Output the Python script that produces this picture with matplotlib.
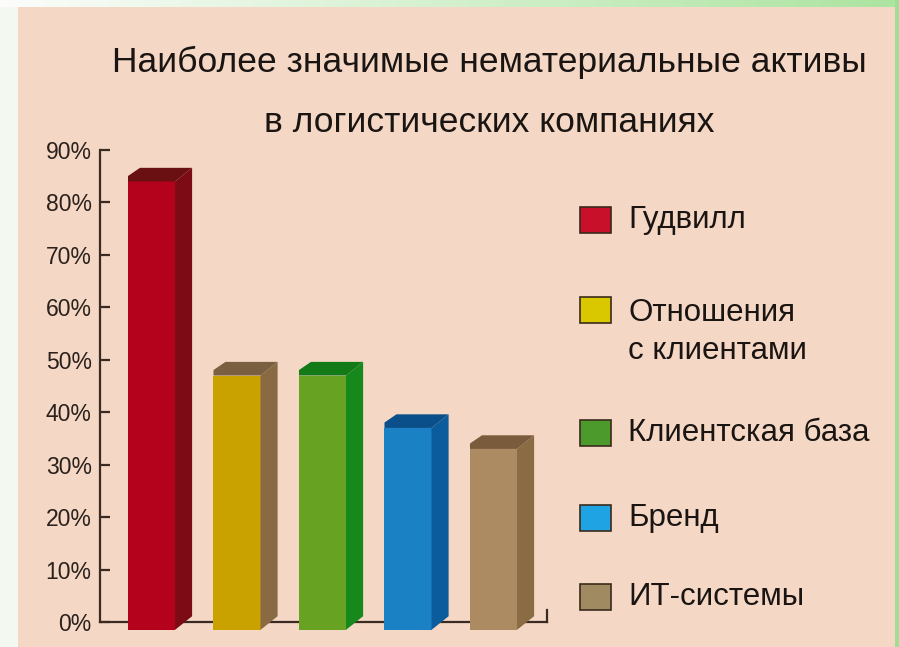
import numpy as np
import matplotlib
matplotlib.use('Agg')
import matplotlib.pyplot as plt
from matplotlib.patches import Polygon, Rectangle

plt.rcParams['font.family'] = ['Liberation Sans', 'DejaVu Sans']

# *** Data ***
categories = ['Гудвилл', 'Отношения\nс клиентами', 'Клиентская база', 'Бренд', 'ИТ-системы']
values = [84, 47, 47, 37, 33]
yticks = [0, 10, 20, 30, 40, 50, 60, 70, 80, 90]
ytick_labels = ['0%', '10%', '20%', '30%', '40%', '50%', '60%', '70%', '80%', '90%']

title_lines = ['Наиболее значимые нематериальные активы', 'в логистических компаниях']

front_colors = ['#b5021c', '#c9a200', '#68a222', '#1a82c4', '#ad8b62']
side_colors = ['#7c0b15', '#8a6a42', '#17881c', '#0b5c9c', '#8b6b44']
top_colors = ['#6b1012', '#7a6040', '#127a16', '#0a4e8a', '#7a5c3c']
legend_colors = ['#c8102a', '#d9c700', '#4d9a2c', '#1fa3e3', '#a08a62']

W, H = 899, 647
fig = plt.figure(figsize=(W / 100, H / 100), dpi=100)

# background: green frame + beige panel
bg = np.zeros((H, W, 3))
xs = np.linspace(0, 1, W)
bg[:, :] = np.array([243, 249, 241]) / 255.
top_strip = (1 - xs)[:, None] * np.array([252, 253, 252]) + xs[:, None] * np.array([172, 228, 160])
bg[:7, :] = top_strip[None, :, :] / 255.
bg[:, 895:] = np.array([160, 222, 148]) / 255.
bg[7:, 18:895] = np.array([244, 216, 197]) / 255.
ax_bg = fig.add_axes([0, 0, 1, 1], zorder=-1)
ax_bg.imshow(bg, aspect='auto', extent=(0, W, H, 0))
ax_bg.set_xlim(0, W)
ax_bg.set_ylim(H, 0)
ax_bg.axis('off')

# main axes: pixel layout of the plotting frame
x0_px, x1_px, y0_px, y1_px = 100, 547, 622, 150
ax = fig.add_axes([x0_px / W, (H - y0_px) / H, (x1_px - x0_px) / W, (y0_px - y1_px) / H])
ax.patch.set_alpha(0)

step = 85.5
xmin = (x0_px - 151.5) / step
xmax = (x1_px - 151.5) / step
ax.set_xlim(xmin, xmax)
ax.set_ylim(0, 90)

bar_w = 0.55
dx = 0.2      # depth offset in x units
dy = 2.6      # depth offset in %
base = -1.5   # front face sits slightly below the axis line

pos = np.arange(len(values))
bars = ax.bar(pos, [v - base for v in values], bottom=base, width=bar_w,
              color=front_colors, zorder=3, clip_on=False, linewidth=0)
for b, sc, tc in zip(bars, side_colors, top_colors):
    l = b.get_x()
    r = l + b.get_width()
    t = b.get_y() + b.get_height()
    bt = b.get_y()
    ax.add_patch(Polygon([(r, bt), (r + dx, bt + dy), (r + dx, t + dy), (r, t)],
                         closed=True, facecolor=sc, edgecolor='none', zorder=3, clip_on=False))
    ax.add_patch(Polygon([(l, t), (r, t), (r + dx, t + dy), (l + dx * 0.7, t + dy), (l, t + dy * 0.4)],
                         closed=True, facecolor=tc, edgecolor='none', zorder=3, clip_on=False))

axis_col = '#3a2a22'
for s in ['top', 'right']:
    ax.spines[s].set_visible(False)
for s in ['left', 'bottom']:
    ax.spines[s].set_color(axis_col)
    ax.spines[s].set_linewidth(1.6)
ax.set_yticks(yticks)
ax.set_yticklabels(ytick_labels)
ax.tick_params(axis='y', direction='in', length=7, width=1.6, color=axis_col,
               labelsize=16.5, labelcolor='#2a201c', pad=6)
ax.set_xticks([])
# small upward tick closing the x axis
ax.plot([xmax, xmax], [0, 2.2], color=axis_col, lw=1.6, clip_on=False, zorder=2)

# title, two lines placed on their baselines
for line, base_y in zip(title_lines, [72, 132]):
    fig.text(489 / W, 1 - base_y / H, line, ha='center', va='baseline',
             fontsize=25.5, color='#1a1412')

# legend, drawn by hand to match the layout
leg_y = [220, 310, 433, 518, 597]
for lab, c, yc in zip(categories, legend_colors, leg_y):
    fig.patches.append(Rectangle((580 / W, 1 - (yc + 13) / H), 31 / W, 26 / H,
                                 transform=fig.transFigure, facecolor=c,
                                 edgecolor='#3a2a1c', linewidth=1.2))
    txt_y = yc + (22 if '\n' in lab else 0)
    fig.text(628 / W, 1 - txt_y / H, lab, ha='left', va='center', fontsize=22.5,
             color='#1a1412', linespacing=1.35)

fig.savefig('out.png', dpi=100)
